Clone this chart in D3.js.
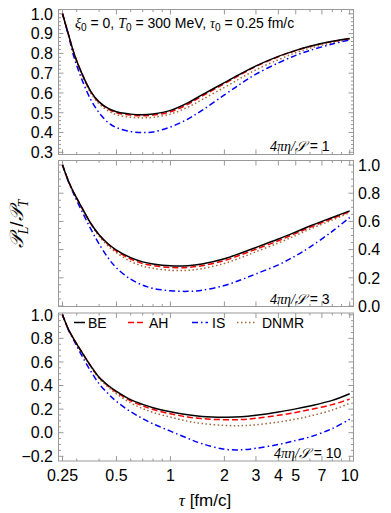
<!DOCTYPE html>
<html>
<head>
<meta charset="utf-8" />
<title>PL/PT vs tau</title>
<script src="https://cdnjs.cloudflare.com/ajax/libs/d3/7.8.5/d3.min.js"></script>
<style>
    body { margin:0; background:white; }
    svg text { font-family: "Liberation Sans", Arial, sans-serif; fill:black; }
    .frame { fill:none; stroke:#999; stroke-width:1; }
    .tick { stroke:#999; stroke-width:1; }
    .it { font-family: "Liberation Serif", "DejaVu Serif", serif; font-style: italic; }
</style>
</head>
<body>
<svg width="391" height="513"></svg>
<script>
// proper time grid (fm/c)
var tau = [0.25, 0.27, 0.29, 0.32, 0.36, 0.4, 0.45, 0.5, 0.6, 0.7, 0.8, 1, 1.25, 1.5, 2, 2.5, 3, 4, 5, 6, 8, 10];

// 4 pi eta/s = 1
var be1   = [1.0, 0.895, 0.80, 0.70, 0.607, 0.555, 0.522, 0.505, 0.493, 0.490, 0.494, 0.512, 0.550, 0.590, 0.652, 0.700, 0.737, 0.785, 0.815, 0.836, 0.861, 0.875];
var ah1   = [1.0, 0.895, 0.80, 0.70, 0.605, 0.552, 0.518, 0.500, 0.488, 0.485, 0.488, 0.505, 0.543, 0.584, 0.647, 0.696, 0.734, 0.783, 0.814, 0.835, 0.860, 0.874];
var is1   = [1.0, 0.890, 0.78, 0.67, 0.565, 0.500, 0.450, 0.425, 0.405, 0.400, 0.403, 0.428, 0.468, 0.512, 0.590, 0.650, 0.695, 0.752, 0.790, 0.815, 0.847, 0.868];
var dnmr1 = [1.0, 0.893, 0.797, 0.695, 0.598, 0.545, 0.510, 0.490, 0.477, 0.474, 0.477, 0.493, 0.528, 0.566, 0.628, 0.678, 0.717, 0.768, 0.803, 0.826, 0.854, 0.873];

// 4 pi eta/s = 3
var be2   = [1.0, 0.885, 0.80, 0.70, 0.585, 0.505, 0.440, 0.397, 0.343, 0.313, 0.298, 0.285, 0.286, 0.298, 0.335, 0.378, 0.415, 0.475, 0.525, 0.567, 0.628, 0.675];
var ah2   = [1.0, 0.885, 0.80, 0.70, 0.584, 0.503, 0.436, 0.390, 0.333, 0.302, 0.287, 0.273, 0.274, 0.286, 0.322, 0.365, 0.403, 0.463, 0.515, 0.558, 0.620, 0.670];
var is2   = [1.0, 0.880, 0.79, 0.675, 0.545, 0.440, 0.340, 0.270, 0.190, 0.148, 0.125, 0.108, 0.104, 0.112, 0.145, 0.188, 0.228, 0.292, 0.357, 0.418, 0.530, 0.628];
var dnmr2 = [1.0, 0.883, 0.797, 0.695, 0.580, 0.495, 0.425, 0.378, 0.316, 0.283, 0.267, 0.253, 0.253, 0.265, 0.302, 0.345, 0.385, 0.447, 0.500, 0.545, 0.610, 0.662];

// 4 pi eta/s = 10
var be3   = [1.0, 0.875, 0.79, 0.685, 0.565, 0.470, 0.400, 0.350, 0.280, 0.240, 0.212, 0.178, 0.152, 0.138, 0.132, 0.135, 0.147, 0.175, 0.202, 0.227, 0.274, 0.330];
var ah3   = [1.0, 0.875, 0.79, 0.685, 0.563, 0.468, 0.395, 0.343, 0.270, 0.228, 0.197, 0.160, 0.133, 0.119, 0.110, 0.112, 0.122, 0.147, 0.172, 0.196, 0.238, 0.285];
var is3   = [1.0, 0.870, 0.78, 0.655, 0.520, 0.415, 0.330, 0.265, 0.178, 0.120, 0.075, 0.013, -0.048, -0.093, -0.140, -0.145, -0.132, -0.100, -0.066, -0.036, 0.035, 0.114];
var dnmr3 = [1.0, 0.873, 0.787, 0.68, 0.558, 0.460, 0.385, 0.330, 0.252, 0.205, 0.172, 0.132, 0.097, 0.078, 0.062, 0.060, 0.067, 0.090, 0.115, 0.141, 0.192, 0.250];

var seriesNames = ["BE", "AH", "IS", "DNMR"];
var etaLabels = ["1", "3", "10"];
var xMajor = [0.25, 0.5, 1, 2, 3, 4, 5, 7, 10];
var xMajorLabels = ["0.25", "0.5", "1", "2", "3", "4", "5", "7", "10"];
var xMinor = [0.3, 0.4, 0.6, 0.7, 0.8, 0.9, 6, 8, 9];

var styles = [
    {color:"#000000", dash:null},
    {color:"#ff0000", dash:"6,3"},
    {color:"#0000ff", dash:"6,3,1.5,3"},
    {color:"#a0683a", dash:"1.5,2.5"}
];

var svg = d3.select("svg");
var frameLeft = 58.5, frameRight = 353.5;
var x = d3.scaleLog().domain([0.25, 10]).range([62.5, 349.7]);

var panels = [
    {top:9.5, bottom:154.5, dom:[0.289, 1.0217], major:0.1, minor:0.02, side:"left",
        data:[be1, ah1, is1, dnmr1], lx:270, ly:150.5},
    {top:160.5, bottom:306.5, dom:[-0.0035, 1.032], major:0.2, minor:0.05, side:"right",
        data:[be2, ah2, is2, dnmr2], lx:270, ly:304},
    {top:313, bottom:461, dom:[-0.24, 1.015], major:0.2, minor:0.05, side:"left",
        data:[be3, ah3, is3, dnmr3], lx:274, ly:457.5}
];

function stepTicks(dom, s) {
    return d3.range(Math.ceil(dom[0]/s - 1e-9), Math.floor(dom[1]/s + 1e-9) + 1).map(function(k){ return +(k*s).toFixed(4); });
}

// text made of plain / italic / subscript parts
function richText(parent, px, py, parts, size, anchor) {
    var t = parent.append("text").attr("x", px).attr("y", py)
        .style("font-size", size + "px").attr("text-anchor", anchor || "start");
    var shifted = false;
    parts.forEach(function(p){
        var s = t.append("tspan").text(p[0]);
        var kind = p[1] || "";
        if (kind.indexOf("i") >= 0) s.attr("class", "it");
        if (kind.indexOf("s") >= 0) {
            s.style("font-size", (size*0.72) + "px");
            if (!shifted) { s.attr("dy", size*0.28); shifted = true; }
        } else if (shifted) {
            s.attr("dy", -size*0.28); shifted = false;
        }
    });
    return t;
}

var fmt = d3.format(".1f");

panels.forEach(function(p, pi){
    var y = d3.scaleLinear().domain(p.dom).range([p.bottom, p.top]);
    var g = svg.append("g");

    // minor + major y ticks on both sides
    stepTicks(p.dom, p.minor).forEach(function(v){
        var isMajor = Math.abs(v/p.major - Math.round(v/p.major)) < 1e-6;
        var len = isMajor ? 5 : 2.5;
        g.append("line").attr("class","tick").attr("x1", frameLeft).attr("x2", frameLeft + len)
            .attr("y1", y(v)).attr("y2", y(v));
        g.append("line").attr("class","tick").attr("x1", frameRight).attr("x2", frameRight - len)
            .attr("y1", y(v)).attr("y2", y(v));
    });
    stepTicks(p.dom, p.major).forEach(function(v){
        g.append("text")
            .attr("x", p.side == "left" ? 53 : 358)
            .attr("y", y(v)).attr("dy", "0.36em")
            .attr("text-anchor", p.side == "left" ? "end" : "start")
            .style("font-size", "16px")
            .text(fmt(v));
    });

    // x ticks on top and bottom
    xMajor.concat(xMinor).forEach(function(v, i){
        var len = i < xMajor.length ? 5 : 2.5;
        g.append("line").attr("class","tick").attr("x1", x(v)).attr("x2", x(v))
            .attr("y1", p.bottom).attr("y2", p.bottom - len);
        g.append("line").attr("class","tick").attr("x1", x(v)).attr("x2", x(v))
            .attr("y1", p.top).attr("y2", p.top + len);
    });

    // curves
    var line = d3.line()
        .x(function(d){ return x(d[0]); })
        .y(function(d){ return y(d[1]); })
        .curve(d3.curveCatmullRom.alpha(0.5));
    var clipId = "clip" + pi;
    svg.append("clipPath").attr("id", clipId).append("rect")
        .attr("x", frameLeft).attr("y", p.top).attr("width", frameRight - frameLeft).attr("height", p.bottom - p.top);
    [3, 2, 1, 0].forEach(function(si){
        var pts = tau.map(function(t, i){ return [t, p.data[si][i]]; });
        g.append("path")
            .attr("clip-path", "url(#" + clipId + ")")
            .attr("d", line(pts))
            .attr("fill", "none")
            .attr("stroke", styles[si].color)
            .attr("stroke-width", 1.5)
            .attr("stroke-dasharray", styles[si].dash);
    });

    g.append("rect").attr("class","frame")
        .attr("x", frameLeft).attr("y", p.top)
        .attr("width", frameRight - frameLeft).attr("height", p.bottom - p.top);

    richText(g, p.lx, p.ly, [["4πη/", "i"], ["𝒮", "i"], [" = " + etaLabels[pi]]], 14);
});

// x tick labels under the bottom panel
xMajor.forEach(function(v, i){
    svg.append("text").attr("x", x(v)).attr("y", 480.5)
        .attr("text-anchor", "middle").style("font-size", "16px")
        .text(xMajorLabels[i]);
});

// header
richText(svg, 75, 27.5, [["ξ", "i"], ["0", "s"], [" = 0,  "], ["T", "i"], ["0", "s"], [" = 300 MeV,  "],
    ["τ", "i"], ["0", "s"], [" = 0.25 fm/c"]], 14);

// legend
var legendPos = [{x0:74, x1:85, tx:88}, {x0:128, x1:145, tx:149}, {x0:192, x1:208, tx:212}, {x0:237, x1:257, tx:262}];
seriesNames.forEach(function(name, i){
    var lp = legendPos[i];
    svg.append("line").attr("x1", lp.x0).attr("x2", lp.x1).attr("y1", 322.5).attr("y2", 322.5)
        .attr("stroke", styles[i].color).attr("stroke-width", 1.5)
        .attr("stroke-dasharray", styles[i].dash);
    svg.append("text").attr("x", lp.tx).attr("y", 327.5).style("font-size", "14px").text(name);
});

// axis titles
richText(svg, 205, 506, [["τ", "i"], [" [fm/c]"]], 17, "middle");
var yt = svg.append("g").attr("transform", "translate(23,224) rotate(-90)");
richText(yt, 0, 0, [["𝒫", "i"], ["L", "is"], ["/"], ["𝒫", "i"], ["T", "is"]], 19, "middle");
</script>
</body>
</html>
